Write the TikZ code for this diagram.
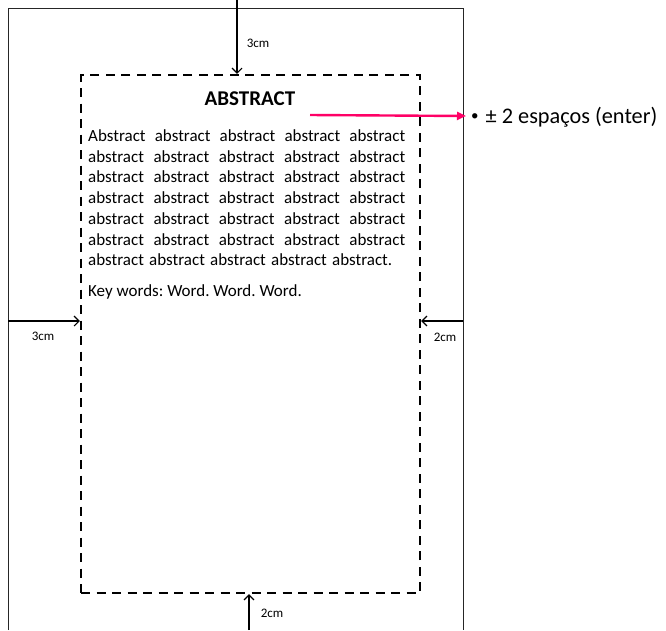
\documentclass[tikz,border=0pt]{standalone}
\usepackage{fontspec}
\setmainfont{Carlito}
\usetikzlibrary{arrows.meta}
\definecolor{pinkarrow}{RGB}{255,0,102}
\frenchspacing
\begin{document}
\begin{tikzpicture}[x=1pt,y=-1pt,
  pageline/.style={line width=0.9pt, draw=black!85},
  dimarrow/.style={line width=1.1pt, -{Straight Barb[length=5pt,width=10pt]}},
  dimlabel/.style={font=\fontsize{13}{14}\selectfont, inner sep=0},
  boxstyle/.style={draw, line width=2.4pt, dash pattern=on 9pt off 6.5pt, minimum width=339pt, minimum height=518pt, inner sep=0},
  bodytext/.style={font=\fontsize{17}{20.7}\selectfont\frenchspacing, inner sep=0, align=left}]
\useasboundingbox (0,0) rectangle (666,630);
% page
\draw[pageline] (8,630) -- (8,8) -- (463,8) -- (463,630);
% dashed text area
\node[boxstyle] (box) at (250.5,334) {};
% title and text
\node[font=\fontsize{21}{24}\selectfont\bfseries, inner sep=0] (title) at (250,99) {ABSTRACT};
\node[bodytext, anchor=north west] (body) at (88,129.5) {%
\makebox[317pt][s]{Abstract abstract abstract abstract abstract}\\
\makebox[317pt][s]{abstract abstract abstract abstract abstract}\\
\makebox[317pt][s]{abstract abstract abstract abstract abstract}\\
\makebox[317pt][s]{abstract abstract abstract abstract abstract}\\
\makebox[317pt][s]{abstract abstract abstract abstract abstract}\\
\makebox[317pt][s]{abstract abstract abstract abstract abstract}\\
\makebox[304pt][s]{abstract abstract abstract abstract abstract.}};
\node[bodytext, anchor=west] (kw) at (88,292) {Key words: Word. Word. Word.};
% dimension arrows
\coordinate (ttop) at (237,0);
\coordinate (lleft) at (8,321);
\coordinate (rright) at (463,321);
\coordinate (bbot) at (249,630);
\draw[dimarrow] (ttop) -- (ttop |- box.north);
\draw[dimarrow] (lleft) -- (lleft -| box.west);
\draw[dimarrow] (rright) -- (rright -| box.east);
\draw[dimarrow] (bbot) -- (bbot |- box.south);
\node[dimlabel] (l1) at (258,43) {3cm};
\node[dimlabel] (l2) at (43,336) {3cm};
\node[dimlabel] (l3) at (445,337) {2cm};
\node[dimlabel] (l4) at (272,613) {2cm};
% pink arrow and bullet
\node[font=\fontsize{22.3}{26}\selectfont, inner sep=0, anchor=west] (bul) at (471,117) {\raisebox{3pt}{\fontsize{15}{15}\selectfont •}\hspace{7pt}± 2 espaços (enter)};
\coordinate (pstart) at (310,115);
\draw[pinkarrow, line width=2.4pt, -{Triangle[length=9pt,width=8pt]}] (pstart) -- ([xshift=-5pt,yshift=1pt]bul.west);
\end{tikzpicture}
\end{document}
